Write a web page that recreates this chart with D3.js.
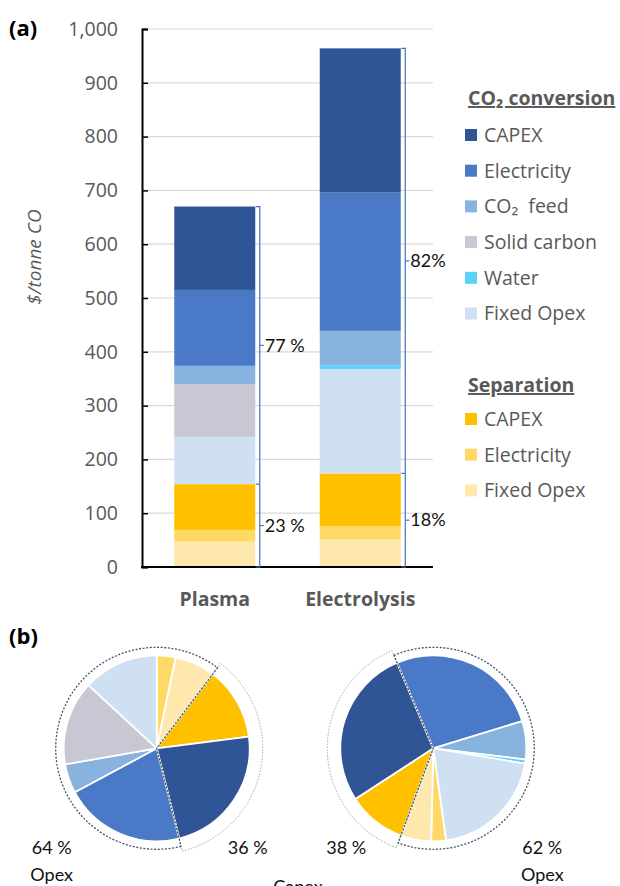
<!DOCTYPE html>
<html>
<head>
<meta charset="utf-8">
<script src="https://cdn.jsdelivr.net/npm/d3@7"></script>
<style>
  body { margin: 0; background: #fff; }
  svg { display: block; }
  text { font-family: "Open Sans", sans-serif; }
</style>
</head>
<body>
<svg id="chart" width="620" height="886"></svg>
<script>
// bar categories and stacked series, bottom-up
const categories = ['Plasma', 'Electrolysis'];
const seriesKeys = ['sepFixed', 'sepElec', 'sepCapex', 'convFixed', 'water', 'solid', 'co2', 'elec', 'capex'];
const plasmaValues = [47, 22, 85, 88, 0, 98, 34, 141, 155];
const electrolysisValues = [51, 25, 98, 194, 7, 0, 64, 257, 268];
const seriesColors = ['#ffe8ae', '#ffd966', '#ffc000', '#cfe0f2', '#5ad2fa', '#c8c8d4', '#87b3de', '#4a79c7', '#2f5597'];

// separation keys (lower bracket) and capex keys (pie capex arc)
const separationKeys = ['sepFixed', 'sepElec', 'sepCapex'];
const capexKeys = ['sepCapex', 'capex'];

// pie slice order, clockwise, and first-slice angle (degrees)
const pieOrder = ['sepElec', 'sepFixed', 'sepCapex', 'capex', 'elec', 'co2', 'water', 'solid', 'convFixed'];
const pieStartDeg = [0, 172];
const pctSpace = [' ', ''];

// axis ticks
const yTicks = [0, 100, 200, 300, 400, 500, 600, 700, 800, 900, 1000];

// legend
const convLegendKeys = ['capex', 'elec', 'co2', 'solid', 'water', 'convFixed'];
const convLegendLabels = ['CAPEX', 'Electricity', 'CO\u2082\u00a0 feed', 'Solid carbon', 'Water', 'Fixed Opex'];
const sepLegendKeys = ['sepCapex', 'sepElec', 'sepFixed'];
const sepLegendLabels = ['CAPEX', 'Electricity', 'Fixed Opex'];

const grey = '#595959';
const svg = d3.select('#chart');

const table = categories.map((c, i) => {
  const row = {category: c};
  const vals = i === 0 ? plasmaValues : electrolysisValues;
  seriesKeys.forEach((k, j) => { row[k] = vals[j]; });
  return row;
});
const colorOf = d3.scaleOrdinal(seriesKeys, seriesColors);

// ---------- (a) stacked bars ----------
const plotLeft = 142, plotRight = 433;
const y = d3.scaleLinear().domain([0, 1000]).range([567, 29]);
const x = d3.scalePoint().domain(categories).range([plotLeft, plotRight]).padding(0.5);
const barW = 81;

svg.append('text').attr('x', 9).attr('y', 36)
  .style('font-weight', 'bold').style('font-size', '22px').text('(a)');

svg.append('g').selectAll('line').data(yTicks.filter(d => d > 0)).join('line')
  .attr('x1', plotLeft).attr('x2', plotRight)
  .attr('y1', d => y(d)).attr('y2', d => y(d))
  .attr('stroke', '#d9d9d9').attr('stroke-width', 1.2);

const stack = d3.stack().keys(seriesKeys)(table);
svg.append('g').selectAll('g').data(stack).join('g')
  .attr('fill', d => colorOf(d.key))
  .selectAll('rect').data(d => d).join('rect')
  .attr('x', d => x(d.data.category) - barW / 2)
  .attr('width', barW)
  .attr('y', d => y(d[1]))
  .attr('height', d => y(d[0]) - y(d[1]));

const yAxis = d3.axisLeft(y).tickValues(yTicks).tickSize(-6).tickPadding(24)
  .tickFormat(d3.format(','));
const gy = svg.append('g').attr('transform', `translate(${plotLeft},0)`).call(yAxis);
gy.select('.domain').attr('stroke', '#000').attr('stroke-width', 2);
gy.selectAll('.tick line').attr('stroke', '#000').attr('stroke-width', 1.5);
gy.selectAll('.tick text').attr('fill', grey).style('font-size', '19.5px')
  .style('font-family', '"Open Sans", sans-serif');

svg.append('line').attr('x1', plotLeft - 1).attr('x2', plotRight)
  .attr('y1', y(0)).attr('y2', y(0)).attr('stroke', '#000').attr('stroke-width', 2);

svg.append('g').selectAll('text').data(categories).join('text')
  .attr('x', d => x(d)).attr('y', 606).attr('text-anchor', 'middle')
  .attr('fill', grey).style('font-weight', 'bold').style('font-size', '19.5px')
  .text(d => d);

svg.append('text')
  .attr('transform', 'translate(41,257) rotate(-90)')
  .attr('text-anchor', 'middle').attr('fill', grey)
  .style('font-style', 'italic').style('font-size', '19px')
  .text('$/tonne CO');

// brackets with share labels
table.forEach((row, i) => {
  const total = d3.sum(seriesKeys, k => row[k]);
  const sep = d3.sum(separationKeys, k => row[k]);
  const bx = x(row.category) + barW / 2 + 4.5;
  const g = svg.append('g').attr('fill', 'none').attr('stroke', '#4472c4').attr('stroke-width', 1.2);
  g.append('path').attr('d', `M${bx - 4},${y(total)} H${bx} V${y(0)} H${bx - 4}`);
  g.append('path').attr('d', `M${bx - 4},${y(sep)} H${bx}`);
  const parts = [[sep, total], [0, sep]];
  parts.forEach(([a, b]) => {
    const my = (y(a) + y(b)) / 2;
    g.append('path').attr('d', `M${bx},${my} H${bx + 4}`);
    svg.append('text').attr('x', bx + 5).attr('y', my).attr('dy', '0.35em')
      .attr('fill', '#111').style('font-family', 'Lato, sans-serif').style('font-size', '18px')
      .text(Math.round((b - a) / total * 100) + pctSpace[i] + '%');
  });
});

// legend
function legendBlock(header, hy, keys, labels, y0) {
  svg.append('text').attr('x', 468).attr('y', hy)
    .attr('fill', grey).style('font-weight', 'bold').style('font-size', '19.5px')
    .style('text-decoration', 'underline').text(header);
  keys.forEach((k, j) => {
    const cy = y0 + j * 35.7;
    svg.append('rect').attr('x', 465).attr('y', cy - 6).attr('width', 12).attr('height', 12)
      .attr('fill', colorOf(k));
    svg.append('text').attr('x', 484).attr('y', cy).attr('dy', '0.35em')
      .attr('fill', grey).style('font-size', '19.5px').style('white-space', 'pre').text(labels[j]);
  });
}
legendBlock('CO\u2082 conversion', 105, convLegendKeys, convLegendLabels, 135);
legendBlock('Separation', 392, sepLegendKeys, sepLegendLabels, 419);

// ---------- (b) pies ----------
svg.append('text').attr('x', 9).attr('y', 644)
  .style('font-weight', 'bold').style('font-size', '22px').text('(b)');

const pieCx = [156.7, 433.3];
const pieCy = 748.3;
const rPie = 93;
const slice = d3.arc().innerRadius(0).outerRadius(rPie);

table.forEach((row, i) => {
  const start = pieStartDeg[i] * Math.PI / 180;
  const arcs = d3.pie().sort(null).value(k => row[k])
    .startAngle(start).endAngle(start + 2 * Math.PI)(pieOrder);
  const g = svg.append('g').attr('transform', `translate(${pieCx[i]},${pieCy})`);
  g.selectAll('path').data(arcs.filter(a => a.value > 0)).join('path')
    .attr('d', slice).attr('fill', a => colorOf(a.data))
    .attr('stroke', '#fff').attr('stroke-width', 1.8).attr('stroke-linejoin', 'round');

  const capA = arcs.find(a => a.data === capexKeys[0]).startAngle;
  const capB = arcs.find(a => a.data === capexKeys[1]).endAngle;
  g.append('path')
    .attr('d', d3.arc().innerRadius(0).outerRadius(106).startAngle(capA).endAngle(capB)())
    .attr('fill', 'none').attr('stroke', '#a6a6a6').attr('stroke-width', 1).attr('stroke-dasharray', '1.5,1.5');
  g.append('path')
    .attr('d', d3.arc().innerRadius(0).outerRadius(101).startAngle(capB).endAngle(capA + 2 * Math.PI)())
    .attr('fill', 'none').attr('stroke', '#44546a').attr('stroke-width', 1.3).attr('stroke-dasharray', '2,1.6');

  const total = d3.sum(pieOrder, k => row[k]);
  const capShare = Math.round(d3.sum(capexKeys, k => row[k]) / total * 100);
  const capX = i === 0 ? 91 : -87;
  const opX = i === 0 ? -105 : 109;
  const labelStyle = t => t.attr('text-anchor', 'middle').attr('fill', '#111')
    .style('font-family', 'Lato, sans-serif').style('font-size', '18px');
  g.append('text').attr('x', capX).attr('y', 106).call(labelStyle).text(capShare + ' %');
  g.append('text').attr('x', opX).attr('y', 106).call(labelStyle).text((100 - capShare) + ' %');
  g.append('text').attr('x', opX).attr('y', 133).call(labelStyle).text('Opex');
});

svg.append('text').attr('x', 298).attr('y', 893).attr('text-anchor', 'middle')
  .attr('fill', '#111').style('font-family', 'Lato, sans-serif').style('font-size', '18px')
  .text('Capex');
</script>
</body>
</html>
